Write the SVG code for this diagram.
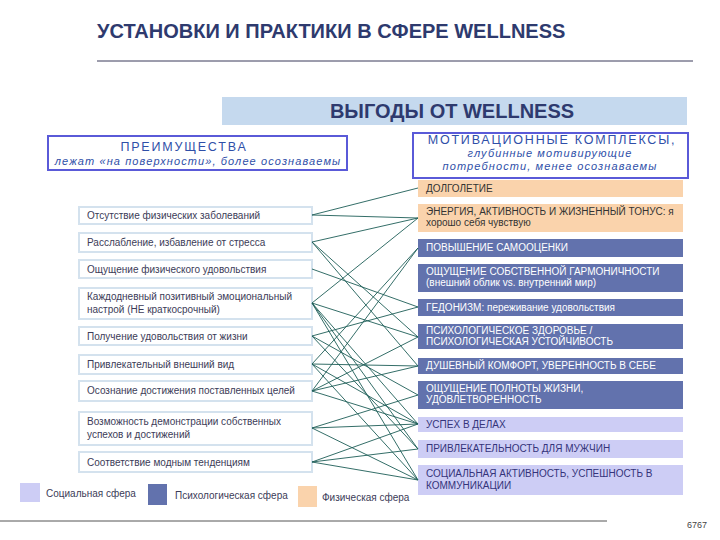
<svg xmlns="http://www.w3.org/2000/svg" width="720" height="540" viewBox="0 0 720 540">
<style>
text{font-family:"Liberation Sans",Arial,sans-serif}
.title{font-size:20px;font-weight:bold;fill:#2e3a6e}
.hdr{font-size:12.5px;letter-spacing:1.8px;fill:#2f4fa8}
.hdri{font-size:11px;font-style:italic;letter-spacing:1.1px;fill:#2f4fa8}
.lbox{fill:#ffffff;stroke:#d4e2ee;stroke-width:2}
.lt{font-size:10px;fill:#3c3c58}
.peach{fill:#fad3ac}
.dark{fill:#6272ad}
.lav{fill:#cdcdf5}
.tp{font-size:10px;fill:#333333}
.td{font-size:10px;fill:#ffffff}
.tl{font-size:10px;fill:#34347a}
.cn line{stroke:#1d5d57;stroke-width:0.9}
.leg{font-size:10px;fill:#3c3c58}
</style>
<rect width="720" height="540" fill="#ffffff"/>
<g id="title">
<text class="title" x="97" y="38">УСТАНОВКИ И ПРАКТИКИ В СФЕРЕ WELLNESS</text>
<line x1="97" y1="61" x2="693" y2="61" stroke="#3a3a5a" stroke-width="1"/>
</g>
<g id="benefits-header">
<rect x="222" y="97" width="465" height="28" fill="#c5d9ee"/>
<text class="title" x="452" y="118" text-anchor="middle">ВЫГОДЫ ОТ WELLNESS</text>
</g>
<g id="advantages-header">
<rect x="48" y="136" width="299" height="34" fill="#ffffff" stroke="#5a5ad8" stroke-width="2"/>
<text class="hdr" x="184" y="151" text-anchor="middle">ПРЕИМУЩЕСТВА</text>
<text class="hdri" x="198" y="165" text-anchor="middle">лежат «на поверхности», более осознаваемы</text>
</g>
<g id="motives-header">
<rect x="413" y="133" width="275" height="45" fill="#ffffff" stroke="#5a5ad8" stroke-width="2"/>
<text class="hdr" x="552" y="144" text-anchor="middle">МОТИВАЦИОННЫЕ КОМПЛЕКСЫ,</text>
<text class="hdri" x="550" y="157" text-anchor="middle">глубинные мотивирующие</text>
<text class="hdri" x="550" y="170" text-anchor="middle">потребности, менее осознаваемы</text>
</g>
<g id="left">
<g id="L1"><rect class="lbox" x="79" y="207" width="233" height="17"/><text class="lt" x="87" y="219">Отсутствие физических заболеваний</text></g>
<g id="L2"><rect class="lbox" x="79" y="233" width="233" height="19"/><text class="lt" x="87" y="246">Расслабление, избавление от стресса</text></g>
<g id="L3"><rect class="lbox" x="79" y="260" width="233" height="18"/><text class="lt" x="87" y="273">Ощущение физического удовольствия</text></g>
<g id="L4"><rect class="lbox" x="79" y="288" width="233" height="31"/><text class="lt" x="87" y="300">Каждодневный позитивный эмоциональный</text><text class="lt" x="87" y="313">настрой (НЕ краткосрочный)</text></g>
<g id="L5"><rect class="lbox" x="79" y="327" width="233" height="18"/><text class="lt" x="87" y="340">Получение удовольствия от жизни</text></g>
<g id="L6"><rect class="lbox" x="79" y="355" width="233" height="19"/><text class="lt" x="87" y="368">Привлекательный внешний вид</text></g>
<g id="L7"><rect class="lbox" x="79" y="381" width="233" height="20"/><text class="lt" x="87" y="394">Осознание достижения поставленных целей</text></g>
<g id="L8"><rect class="lbox" x="79" y="412" width="233" height="33"/><text class="lt" x="87" y="425">Возможность демонстрации собственных</text><text class="lt" x="87" y="438">успехов и достижений</text></g>
<g id="L9"><rect class="lbox" x="79" y="452" width="233" height="20"/><text class="lt" x="87" y="466">Соответствие модным тенденциям</text></g>
</g>
<g id="right">
<g id="R1"><rect class="peach" x="418" y="180" width="265" height="17"/><text class="tp" x="426" y="192">ДОЛГОЛЕТИЕ</text></g>
<g id="R2"><rect class="peach" x="418" y="204" width="265" height="28"/><text class="tp" x="426" y="215">ЭНЕРГИЯ, АКТИВНОСТЬ И ЖИЗНЕННЫЙ ТОНУС: я</text><text class="tp" x="426" y="226">хорошо себя чувствую</text></g>
<g id="R3"><rect class="dark" x="418" y="239" width="265" height="18"/><text class="td" x="426" y="251">ПОВЫШЕНИЕ САМООЦЕНКИ</text></g>
<g id="R4"><rect class="dark" x="418" y="264" width="265" height="28"/><text class="td" x="426" y="275">ОЩУЩЕНИЕ СОБСТВЕННОЙ ГАРМОНИЧНОСТИ</text><text class="td" x="426" y="286">(внешний облик vs. внутренний мир)</text></g>
<g id="R5"><rect class="dark" x="418" y="299" width="265" height="17"/><text class="td" x="426" y="311">ГЕДОНИЗМ: переживание удовольствия</text></g>
<g id="R6"><rect class="dark" x="418" y="324" width="265" height="25"/><text class="td" x="426" y="334">ПСИХОЛОГИЧЕСКОЕ ЗДОРОВЬЕ /</text><text class="td" x="426" y="345">ПСИХОЛОГИЧЕСКАЯ УСТОЙЧИВОСТЬ</text></g>
<g id="R7"><rect class="dark" x="418" y="358" width="265" height="16"/><text class="td" x="426" y="369">ДУШЕВНЫЙ КОМФОРТ, УВЕРЕННОСТЬ В СЕБЕ</text></g>
<g id="R8"><rect class="dark" x="418" y="381" width="265" height="28"/><text class="td" x="426" y="392">ОЩУЩЕНИЕ ПОЛНОТЫ ЖИЗНИ,</text><text class="td" x="426" y="403">УДОВЛЕТВОРЕННОСТЬ</text></g>
<g id="R9"><rect class="lav" x="418" y="417" width="265" height="15"/><text class="tl" x="426" y="428">УСПЕХ В ДЕЛАХ</text></g>
<g id="R10"><rect class="lav" x="418" y="440" width="265" height="18"/><text class="tl" x="426" y="452">ПРИВЛЕКАТЕЛЬНОСТЬ ДЛЯ МУЖЧИН</text></g>
<g id="R11"><rect class="lav" x="418" y="465" width="265" height="30"/><text class="tl" x="426" y="477">СОЦИАЛЬНАЯ АКТИВНОСТЬ, УСПЕШНОСТЬ В</text><text class="tl" x="426" y="489">КОММУНИКАЦИИ</text></g>
</g>
<g id="connectors" class="cn">
<line x1="312" y1="215" x2="418" y2="188"/>
<line x1="312" y1="215" x2="418" y2="218"/>
<line x1="312" y1="242" x2="418" y2="218"/>
<line x1="312" y1="242" x2="418" y2="337"/>
<line x1="312" y1="242" x2="418" y2="366"/>
<line x1="312" y1="269" x2="418" y2="307"/>
<line x1="312" y1="303" x2="418" y2="218"/>
<line x1="312" y1="303" x2="418" y2="337"/>
<line x1="312" y1="303" x2="418" y2="424"/>
<line x1="312" y1="303" x2="418" y2="449"/>
<line x1="312" y1="303" x2="418" y2="480"/>
<line x1="312" y1="336" x2="418" y2="307"/>
<line x1="312" y1="336" x2="418" y2="395"/>
<line x1="312" y1="336" x2="418" y2="449"/>
<line x1="312" y1="364" x2="418" y2="248"/>
<line x1="312" y1="364" x2="418" y2="366"/>
<line x1="312" y1="364" x2="418" y2="424"/>
<line x1="312" y1="364" x2="418" y2="480"/>
<line x1="312" y1="391" x2="418" y2="248"/>
<line x1="312" y1="391" x2="418" y2="337"/>
<line x1="312" y1="391" x2="418" y2="366"/>
<line x1="312" y1="391" x2="418" y2="424"/>
<line x1="312" y1="428" x2="418" y2="395"/>
<line x1="312" y1="428" x2="418" y2="424"/>
<line x1="312" y1="428" x2="418" y2="480"/>
<line x1="312" y1="462" x2="418" y2="424"/>
<line x1="312" y1="462" x2="418" y2="449"/>
<line x1="312" y1="462" x2="418" y2="480"/>
</g>
<g id="legend">
<rect class="lav" x="20" y="483" width="20" height="19"/>
<text class="leg" x="46" y="497">Социальная сфера</text>
<rect class="dark" x="148" y="484" width="19" height="21"/>
<text class="leg" x="175" y="499">Психологическая сфера</text>
<rect class="peach" x="298" y="486" width="19" height="21"/>
<text class="leg" x="322" y="501">Физическая сфера</text>
</g>
<g id="footer">
<line x1="0" y1="521" x2="607" y2="521" stroke="#555555" stroke-width="1"/>
<text x="707" y="528" font-size="9" fill="#444444" text-anchor="end">6767</text>
</g>
</svg>
